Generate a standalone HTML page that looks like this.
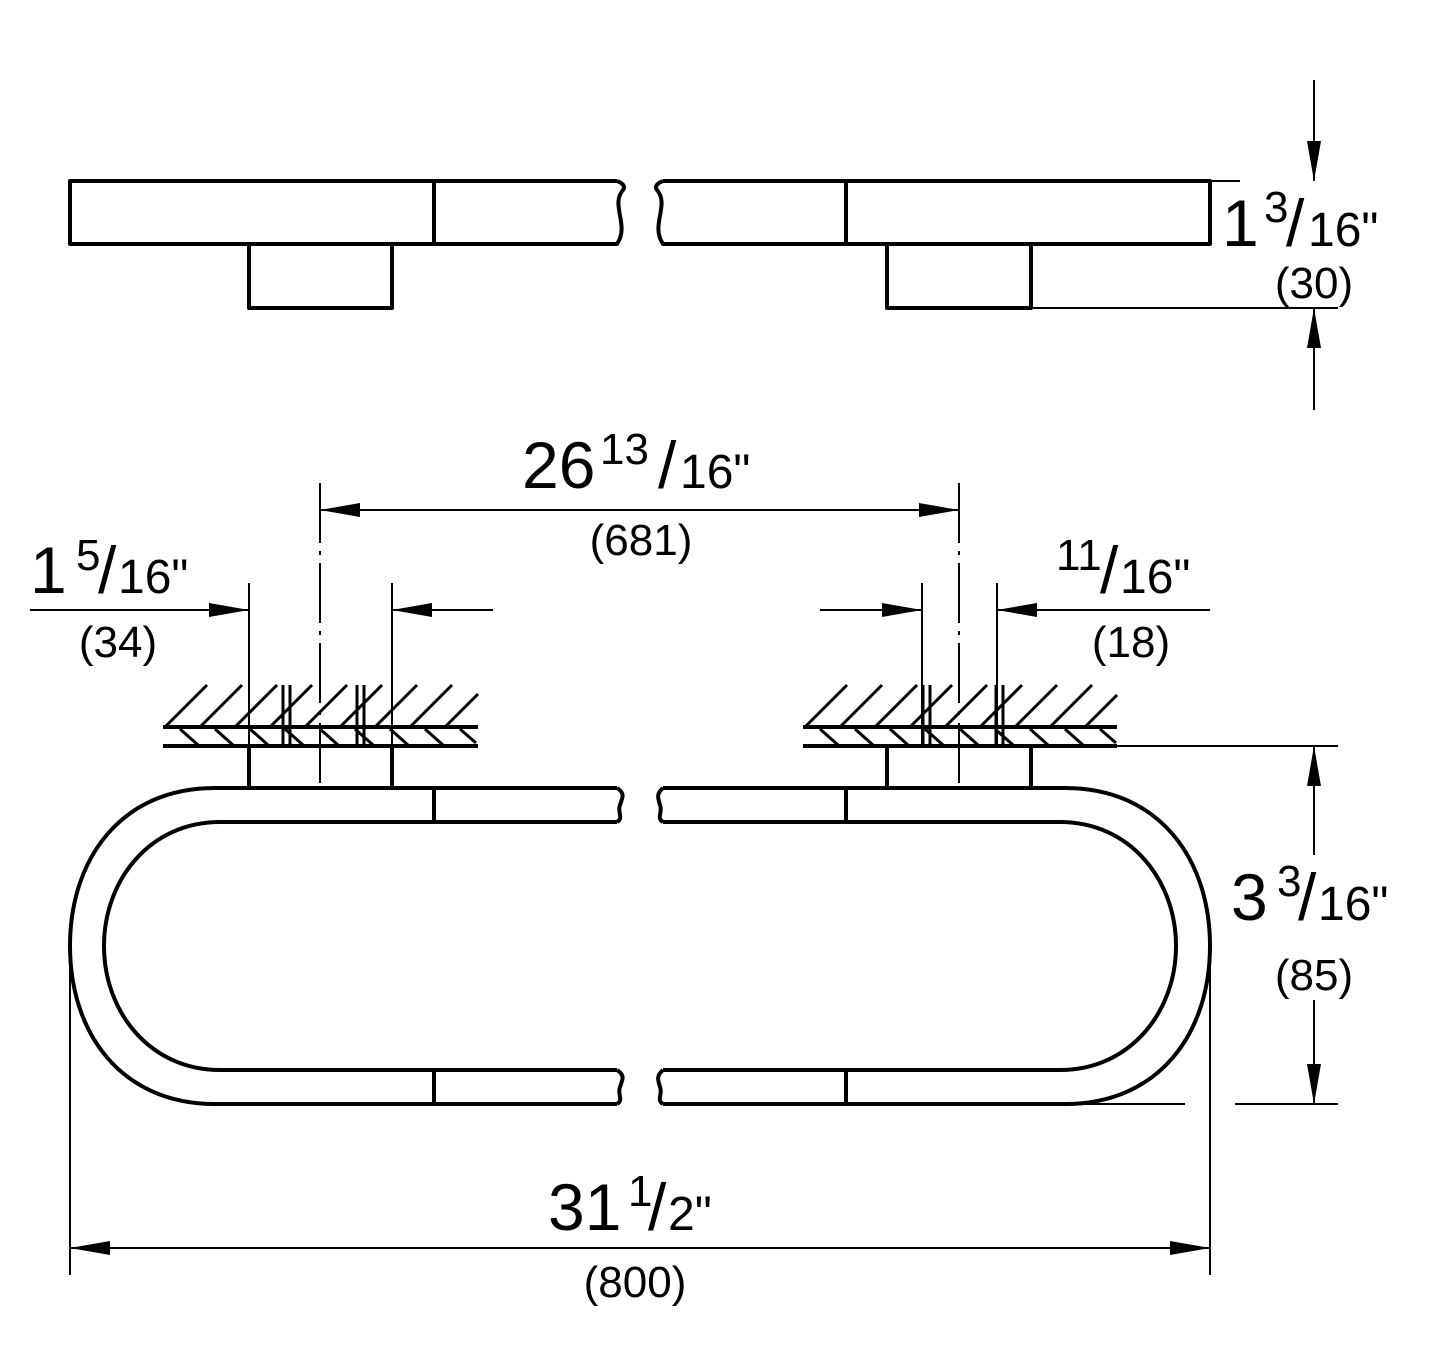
<!DOCTYPE html>
<html><head><meta charset="utf-8"><style>
html,body{margin:0;padding:0;background:#fff}
svg{display:block}
text{font-family:"Liberation Sans",Arial,sans-serif;fill:#000}
</style></head><body>
<svg width="1442" height="1347" viewBox="0 0 1442 1347" xmlns="http://www.w3.org/2000/svg">
<defs>
<marker id="a" markerWidth="40" markerHeight="14" refX="40" refY="7" orient="auto" markerUnits="userSpaceOnUse"><path d="M0,0 L40,7 L0,14 Z" fill="#000"/></marker>
</defs>
<g fill="none" stroke="#000" stroke-width="4" stroke-linejoin="round">
<path d="M617,181 L70,181 L70,244 L617,244 C630,225 610,205 623,190 C626,186 622,183 617,181"/>
<path d="M663,181 L1210,181 L1210,244 L663,244 C650,225 670,205 657,190 C654,186 658,183 663,181"/>
<line x1="434" y1="181" x2="434" y2="244"/>
<line x1="846" y1="181" x2="846" y2="244"/>
<path d="M249,244 L249,308 L392,308 L392,244"/>
<path d="M887,244 L887,308 L1031,308 L1031,244"/>
<path d="M617,788 L215,788 C120,788 70,860 70,946 C70,1032 120,1104 215,1104 L617,1104"/>
<path d="M617,822 L220,822 C150,822 104,880 104,946 C104,1012 150,1070 220,1070 L617,1070"/>
<path d="M663,788 L1065,788 C1160,788 1210,860 1210,946 C1210,1032 1160,1104 1065,1104 L663,1104"/>
<path d="M663,822 L1060,822 C1130,822 1176,880 1176,946 C1176,1012 1130,1070 1060,1070 L663,1070"/>
<path d="M617,788 C626,794 622,798 620,805 C617,812 624,818 617,822"/>
<path d="M663,788 C656,794 658,798 660,805 C663,812 656,818 663,822"/>
<path d="M617,1070 C626,1076 622,1080 620,1087 C617,1094 624,1100 617,1104"/>
<path d="M663,1070 C656,1076 658,1080 660,1087 C663,1094 656,1100 663,1104"/>
<line x1="434" y1="788" x2="434" y2="822"/>
<line x1="846" y1="788" x2="846" y2="822"/>
<line x1="434" y1="1070" x2="434" y2="1104"/>
<line x1="846" y1="1070" x2="846" y2="1104"/>
<path d="M249,746 L249,788 M392,746 L392,788"/>
<path d="M887,746 L887,788 M1031,746 L1031,788"/>
<line x1="163" y1="727" x2="478" y2="727"/>
<line x1="163" y1="746" x2="478" y2="746"/>
<line x1="803" y1="727" x2="1117" y2="727"/>
<line x1="803" y1="746" x2="1117" y2="746"/>
</g>
<g stroke="#000" stroke-width="3" fill="none">
<path d="M165,727 L207,685 M200,727 L242,685 M235,727 L277,685 M270,727 L312,685 M305,727 L347,685 M340,727 L382,685 M375,727 L417,685 M410,727 L452,685 M445,727 L478,694"/>
<path d="M180,729 L198,745 M215,729 L233,745 M250,729 L268,745 M285,729 L303,745 M320,729 L338,745 M355,729 L373,745 M390,729 L408,745 M425,729 L443,745 M460,729 L476,743"/>
<path d="M805,727 L847,685 M840,727 L882,685 M875,727 L917,685 M910,727 L952,685 M945,727 L987,685 M980,727 L1022,685 M1015,727 L1057,685 M1050,727 L1092,685 M1085,727 L1117,695"/>
<path d="M820,729 L838,745 M855,729 L873,745 M890,729 L908,745 M925,729 L943,745 M960,729 L978,745 M995,729 L1013,745 M1030,729 L1048,745 M1065,729 L1083,745 M1100,729 L1116,743"/>
<path d="M283,685 L283,745 M290,685 L290,745 M357,685 L357,745 M364,685 L364,745"/>
<path d="M923,685 L923,745 M930,685 L930,745 M996,685 L996,745 M1003,685 L1003,745"/>
</g>
<g stroke="#000" stroke-width="2" fill="none">
<line x1="320" y1="483" x2="320" y2="788" stroke-dasharray="60,8,4,8"/>
<line x1="959" y1="483" x2="959" y2="788" stroke-dasharray="60,8,4,8"/>
<line x1="1210" y1="181" x2="1240" y2="181"/>
<line x1="1031" y1="308" x2="1338" y2="308"/>
<line x1="1314" y1="80" x2="1314" y2="181" marker-end="url(#a)"/>
<line x1="1314" y1="410" x2="1314" y2="308" marker-end="url(#a)"/>
<line x1="640" y1="510" x2="320" y2="510" marker-end="url(#a)"/>
<line x1="640" y1="510" x2="959" y2="510" marker-end="url(#a)"/>
<line x1="249" y1="583" x2="249" y2="746"/>
<line x1="392" y1="583" x2="392" y2="746"/>
<line x1="30" y1="610" x2="249" y2="610" marker-end="url(#a)"/>
<line x1="493" y1="610" x2="392" y2="610" marker-end="url(#a)"/>
<line x1="922" y1="583" x2="922" y2="746"/>
<line x1="997" y1="583" x2="997" y2="746"/>
<line x1="820" y1="610" x2="922" y2="610" marker-end="url(#a)"/>
<line x1="1210" y1="610" x2="997" y2="610" marker-end="url(#a)"/>
<line x1="1117" y1="746" x2="1338" y2="746"/>
<line x1="1065" y1="1104" x2="1185" y2="1104"/>
<line x1="1235" y1="1104" x2="1338" y2="1104"/>
<line x1="1314" y1="855" x2="1314" y2="746" marker-end="url(#a)"/>
<line x1="1314" y1="1000" x2="1314" y2="1104" marker-end="url(#a)"/>
<line x1="70" y1="950" x2="70" y2="1275"/>
<line x1="1210" y1="960" x2="1210" y2="1275"/>
<line x1="640" y1="1248" x2="70" y2="1248" marker-end="url(#a)"/>
<line x1="640" y1="1248" x2="1210" y2="1248" marker-end="url(#a)"/>
</g>

<text x="1222" y="246" font-size="66">1</text>
<text x="1264" y="222" font-size="44">3</text>
<text x="1286" y="246" font-size="66">/</text>
<text x="1308" y="246" font-size="48">16"</text>
<text x="1314" y="298" font-size="44" text-anchor="middle">(30)</text>

<text x="522" y="488" font-size="66">26</text>
<text x="600" y="464" font-size="44">13</text>
<text x="658" y="488" font-size="66">/</text>
<text x="680" y="488" font-size="48">16"</text>
<text x="641" y="555" font-size="44" text-anchor="middle">(681)</text>

<text x="30" y="593" font-size="66">1</text>
<text x="76" y="570" font-size="44">5</text>
<text x="98" y="593" font-size="66">/</text>
<text x="118" y="593" font-size="48">16"</text>
<text x="118" y="657" font-size="44" text-anchor="middle">(34)</text>

<text x="1056" y="570" font-size="44">11</text>
<text x="1100" y="593" font-size="66">/</text>
<text x="1120" y="593" font-size="48">16"</text>
<text x="1131" y="657" font-size="44" text-anchor="middle">(18)</text>

<text x="1231" y="920" font-size="66">3</text>
<text x="1277" y="896" font-size="44">3</text>
<text x="1298" y="920" font-size="66">/</text>
<text x="1318" y="920" font-size="48">16"</text>
<text x="1314" y="990" font-size="44" text-anchor="middle">(85)</text>

<text x="548" y="1230" font-size="66">31</text>
<text x="628" y="1206" font-size="44">1</text>
<text x="648" y="1230" font-size="66">/</text>
<text x="668" y="1230" font-size="48">2"</text>
<text x="635" y="1297" font-size="44" text-anchor="middle">(800)</text>
</svg>
</body></html>
